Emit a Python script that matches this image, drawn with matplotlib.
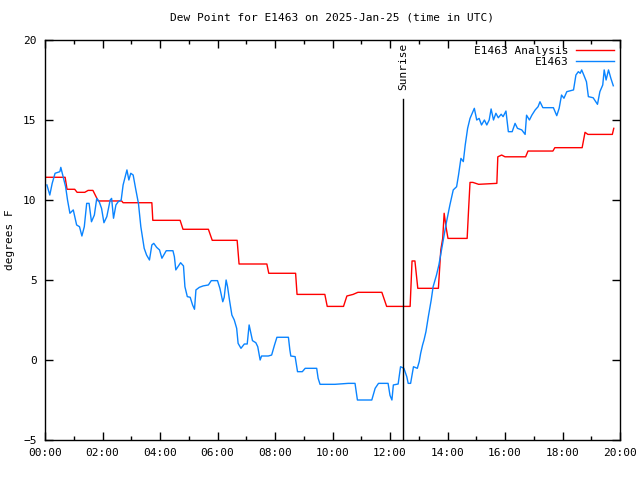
import numpy as np
import matplotlib
matplotlib.use('Agg')
import matplotlib.pyplot as plt
from matplotlib.ticker import MultipleLocator, FuncFormatter

plt.rcParams['font.family'] = ['DejaVu Sans Mono']

# analysis (red), time in UTC and dew point in F
analysis_times = [
    "00:00", "00:42", "00:46", "01:02", "01:07", "01:23", "01:30", "01:40",
    "01:51", "02:40", "02:43", "03:43", "03:45", "04:42", "04:48", "05:41",
    "05:49", "06:41", "06:45", "07:43", "07:47", "08:43", "08:46", "09:44",
    "09:49", "10:23", "10:30", "10:43", "10:53", "11:43", "11:53", "12:42",
    "12:46", "12:52", "12:58", "13:41", "13:46", "13:50", "13:53", "13:57",
    "14:01", "14:41", "14:44", "14:47", "14:53", "15:05", "15:43", "15:45",
    "15:53", "16:00", "16:43", "16:48", "17:40", "17:44", "18:41", "18:47",
    "18:53", "19:44", "19:47",
]
analysis_vals = [
    11.42, 11.42, 10.67, 10.67, 10.48, 10.48, 10.6, 10.6,
    9.94, 9.94, 9.83, 9.83, 8.73, 8.73, 8.17, 8.17,
    7.48, 7.48, 6.0, 6.0, 5.42, 5.42, 4.1, 4.1,
    3.35, 3.35, 4.0, 4.1, 4.23, 4.23, 3.35, 3.35,
    6.19, 6.19, 4.48, 4.48, 6.88, 7.6, 9.17, 8.3,
    7.6, 7.6, 9.4, 11.1, 11.1, 10.98, 11.04, 12.7,
    12.81, 12.7, 12.7, 13.06, 13.06, 13.27, 13.27, 14.23,
    14.1, 14.1, 14.48,
]

# station observations (blue)
obs_times = [
    "00:04", "00:10", "00:15", "00:21", "00:31", "00:33", "00:36", "00:43",
    "00:47", "00:52", "00:59", "01:06", "01:12", "01:17", "01:22", "01:27",
    "01:32", "01:37", "01:43", "01:48", "01:53", "01:58", "02:03", "02:09",
    "02:16", "02:19", "02:23", "02:28", "02:33", "02:39", "02:43", "02:51",
    "02:55", "02:59", "03:04", "03:09", "03:15", "03:20", "03:27", "03:32",
    "03:38", "03:43", "03:47", "03:53", "03:59", "04:04", "04:13", "04:27",
    "04:30", "04:33", "04:43", "04:49", "04:52", "04:57", "05:03", "05:08",
    "05:12", "05:15", "05:22", "05:30", "05:41", "05:47", "06:00", "06:05",
    "06:11", "06:14", "06:18", "06:21", "06:25", "06:30", "06:35", "06:40",
    "06:43", "06:49", "06:56", "07:02", "07:06", "07:09", "07:13", "07:20",
    "07:24", "07:29", "07:32", "07:46", "07:53", "07:59", "08:04", "08:28",
    "08:31", "08:33", "08:42", "08:47", "08:57", "09:03", "09:27", "09:30",
    "09:34", "10:05", "10:33", "10:47", "10:52", "11:22", "11:29", "11:36",
    "11:56", "12:00", "12:04", "12:07", "12:17", "12:22", "12:29", "12:35",
    "12:38", "12:43", "12:49", "12:57", "13:01", "13:04", "13:08", "13:11",
    "13:15", "13:20", "13:26", "13:30", "13:37", "13:42", "13:48", "13:53",
    "13:58", "14:05", "14:12", "14:19", "14:23", "14:28", "14:33", "14:37",
    "14:42", "14:47", "14:56", "15:01", "15:06", "15:11", "15:17", "15:22",
    "15:27", "15:31", "15:36", "15:41", "15:46", "15:52", "15:56", "16:02",
    "16:07", "16:15", "16:21", "16:26", "16:35", "16:42", "16:45", "16:51",
    "16:56", "17:03", "17:09", "17:13", "17:19", "17:41", "17:48", "17:53",
    "17:58", "18:03", "18:09", "18:23", "18:28", "18:33", "18:37", "18:40",
    "18:45", "18:50", "18:54", "19:04", "19:13", "19:18", "19:24", "19:27",
    "19:31", "19:36", "19:41", "19:46",
]
obs_vals = [
    10.94, 10.31, 11.04, 11.67, 11.77, 12.04, 11.67, 10.83,
    10.0, 9.17, 9.38, 8.44, 8.33, 7.75, 8.33, 9.79,
    9.79, 8.64, 9.06, 10.1, 9.9, 9.48, 8.58, 8.96,
    10.0, 10.1, 8.86, 9.69, 9.9, 10.0, 10.94, 11.88,
    11.25, 11.67, 11.56, 10.73, 9.79, 8.33, 6.98, 6.56,
    6.25, 7.19, 7.29, 7.04, 6.88, 6.36, 6.83, 6.83,
    6.46, 5.63, 6.08, 5.88, 4.58, 3.96, 3.92, 3.44,
    3.17, 4.38, 4.54, 4.63, 4.69, 4.96, 4.96, 4.48,
    3.64, 3.92, 5.0, 4.58, 3.75, 2.81, 2.5, 1.98,
    1.04, 0.73, 1.0, 1.0, 2.19, 1.77, 1.21, 1.08,
    0.83, 0.0, 0.25, 0.25, 0.31, 0.94, 1.42, 1.42,
    0.63, 0.25, 0.21, -0.73, -0.73, -0.52, -0.52, -1.14,
    -1.52, -1.52, -1.46, -1.46, -2.5, -2.5, -1.77, -1.46,
    -1.46, -2.21, -2.5, -1.56, -1.5, -0.42, -0.52, -1.04,
    -1.46, -1.46, -0.42, -0.52, -0.1, 0.42, 0.94, 1.25,
    1.77, 2.71, 3.75, 4.58, 5.31, 5.94, 6.98, 7.81,
    8.64, 9.69, 10.63, 10.83, 11.56, 12.6, 12.4, 13.44,
    14.48, 15.1, 15.73, 15.0, 15.1, 14.69, 15.0, 14.69,
    15.0, 15.69, 15.0, 15.42, 15.14, 15.36, 15.21, 15.56,
    14.27, 14.27, 14.79, 14.48, 14.38, 14.1, 15.3, 15.0,
    15.3, 15.63, 15.83, 16.14, 15.77, 15.77, 15.27, 15.73,
    16.56, 16.36, 16.77, 16.88, 17.81, 18.02, 17.92, 18.13,
    17.77, 17.39, 16.46, 16.39, 15.98, 16.77, 17.19, 18.13,
    17.5, 18.13, 17.6, 17.14,
]

sunrise_time = "12:27"
sunrise_top = 16.3


def to_hours(stamps):
    out = []
    for s in stamps:
        h, m = s.split(":")
        out.append(int(h) + int(m) / 60.0)
    return np.array(out)


fig = plt.figure(figsize=(6.4, 4.8), dpi=100)
ax = fig.add_axes([45 / 640, 40 / 480, 575 / 640, 400 / 480])

ax.plot(to_hours(analysis_times), analysis_vals, color='#ff0000', lw=1.0,
        label='E1463 Analysis')
ax.plot(to_hours(obs_times), obs_vals, color='#0a84ff', lw=1.0,
        label='E1463')

sr = to_hours([sunrise_time])[0]
ax.plot([sr, sr], [-5, sunrise_top], color='black', lw=1.0)
ax.text(sr, sunrise_top + 0.6, 'Sunrise', rotation=90, ha='center',
        va='bottom', fontsize=8)

ax.set_xlim(0, 20)
ax.set_ylim(-5, 20)
ax.xaxis.set_major_locator(MultipleLocator(2))
ax.xaxis.set_minor_locator(MultipleLocator(1))
ax.xaxis.set_major_formatter(FuncFormatter(lambda v, p: f'{int(round(v)):02d}:00'))
ax.yaxis.set_major_locator(MultipleLocator(5))
ax.tick_params(which='both', direction='in', top=True, right=True,
               labelsize=8, width=1.0)
ax.tick_params(which='major', length=6, pad=6)
ax.tick_params(which='minor', length=3)
for sp in ax.spines.values():
    sp.set_linewidth(1.0)

ax.set_ylabel('degrees F', fontsize=8, labelpad=6)
ax.set_title('Dew Point for E1463 on 2025-Jan-25 (time in UTC)', fontsize=8,
             pad=14)

ax.legend(loc='upper right', frameon=False, markerfirst=False, fontsize=8,
          handlelength=3.5, handletextpad=0.6, labelspacing=0.1,
          borderaxespad=0.1)

fig.savefig('out.png', dpi=100)
